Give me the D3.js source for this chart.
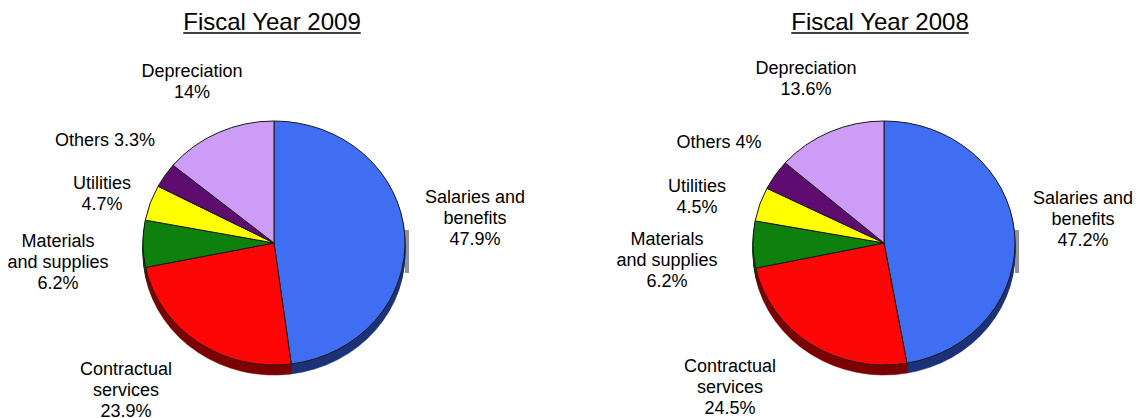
<!DOCTYPE html>
<html>
<head>
<meta charset="utf-8">
<script src="https://cdn.jsdelivr.net/npm/d3@7/dist/d3.min.js"></script>
<style>
  html, body { margin: 0; padding: 0; background: #fff; }
  svg { display: block; }
  text { font-family: "Liberation Sans", Arial, sans-serif; fill: #000; }
</style>
</head>
<body>
<svg id="chart" width="1140" height="418"></svg>
<script>
// Operating expense categories, in drawing order (clockwise from 12 o'clock)
const categories = ["Salaries and benefits", "Contractual services", "Materials and supplies", "Utilities", "Others", "Depreciation"];
const labelLines = [["Salaries and", "benefits"], ["Contractual", "services"], ["Materials", "and supplies"], ["Utilities"], ["Others"], ["Depreciation"]];
const percentInline = [false, false, false, false, true, false];

// Share of total expenses, percent
const values2009 = [47.9, 23.9, 6.2, 4.7, 3.3, 14];
const values2008 = [47.2, 24.5, 6.2, 4.5, 4, 13.6];

const titles = ["Fiscal Year 2009", "Fiscal Year 2008"];

// Face and side colours per category
const faceColors = ["#3f6ef3", "#fe0606", "#0e800e", "#ffff00", "#5f0c70", "#cc9cf7"];
const sideColors = ["#1c3278", "#7c0000", "#064006", "#8a8a00", "#2e0438", "#6a4c84"];

// Pie geometry
const rx = 131, ry = 122, depth = 10;
const pies = [
  { cx: 274, cy: 243, values: values2009, title: titles[0], titleX: 272,
    labels: [[475, 203], [126, 375], [58, 247], [102, 189], [105, 146], [192, 77]] },
  { cx: 884, cy: 243, values: values2008, title: titles[1], titleX: 880,
    labels: [[1083, 204], [730, 372], [667, 245], [697, 192], [719, 148], [806, 74]] }
];
const lineHeight = 21;

const svg = d3.select("#chart");
const pie = d3.pie().sort(null).value(d => d).startAngle(0).endAngle(2 * Math.PI);
const arc = d3.arc().innerRadius(0).outerRadius(rx);
const yScale = ry / rx;

pies.forEach(p => {
  const arcs = pie(p.values);
  const g = svg.append("g");

  // small grey edge tab on the right rim
  g.append("rect")
    .attr("x", p.cx + rx)
    .attr("y", p.cy - 13)
    .attr("width", 4)
    .attr("height", 43)
    .attr("fill", "#8e939d");

  // extruded side: stacked copies of each slice in its darker colour
  for (let k = depth; k >= 1; k--) {
    g.append("g")
      .attr("transform", `translate(${p.cx},${p.cy + k}) scale(1,${yScale})`)
      .selectAll("path")
      .data(arcs)
      .join("path")
      .attr("d", arc)
      .attr("fill", (d, i) => sideColors[i])
      .attr("stroke", (d, i) => sideColors[i])
      .attr("stroke-width", 0.6)
      .attr("vector-effect", "non-scaling-stroke");
  }

  // top face
  g.append("g")
    .attr("transform", `translate(${p.cx},${p.cy}) scale(1,${yScale})`)
    .selectAll("path")
    .data(arcs)
    .join("path")
    .attr("d", arc)
    .attr("fill", (d, i) => faceColors[i])
    .attr("stroke", "#1a1a1a")
    .attr("stroke-width", 1)
    .attr("stroke-linejoin", "round")
    .attr("vector-effect", "non-scaling-stroke");

  // title with underline
  const t = svg.append("text")
    .attr("x", p.titleX)
    .attr("y", 30)
    .attr("text-anchor", "middle")
    .attr("font-size", 24)
    .text(p.title);
  const w = t.node().getComputedTextLength();
  svg.append("line")
    .attr("x1", p.titleX - w / 2)
    .attr("x2", p.titleX + w / 2)
    .attr("y1", 33)
    .attr("y2", 33)
    .attr("stroke", "#000")
    .attr("stroke-width", 1.5);

  // category labels
  categories.forEach((c, i) => {
    const pct = `${p.values[i]}%`;
    const lines = percentInline[i]
      ? [labelLines[i].join(" ") + " " + pct]
      : labelLines[i].concat([pct]);
    const [lx, ly] = p.labels[i];
    const txt = svg.append("text")
      .attr("text-anchor", "middle")
      .attr("font-size", 18);
    lines.forEach((s, j) => {
      txt.append("tspan")
        .attr("x", lx)
        .attr("y", ly + j * lineHeight)
        .text(s);
    });
  });
});
</script>
</body>
</html>
